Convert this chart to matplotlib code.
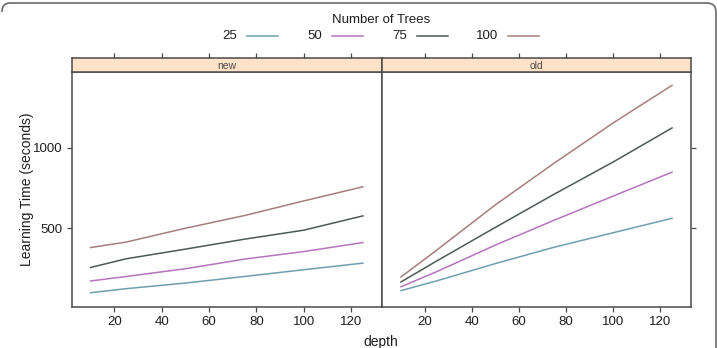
"""Learning time vs. tree depth, lattice-style two-panel chart."""

import matplotlib
matplotlib.use("Agg")
import matplotlib.pyplot as plt
from matplotlib.lines import Line2D
from matplotlib.path import Path
from matplotlib.patches import PathPatch

plt.rcParams["font.family"] = ["Liberation Sans", "DejaVu Sans"]

# ---- data ----
depth = [10, 25, 50, 75, 100, 125]
tree_counts = ["25", "50", "75", "100"]
panels = ["new", "old"]

new_25 = [99, 124, 159, 200, 242, 283]
new_50 = [172, 200, 248, 308, 355, 411]
new_75 = [256, 310, 370, 432, 488, 577]
new_100 = [380, 414, 500, 579, 670, 758]

old_25 = [112, 172, 280, 382, 472, 562]
old_50 = [136, 229, 395, 550, 700, 849]
old_75 = [166, 295, 505, 712, 912, 1124]
old_100 = [197, 362, 645, 905, 1155, 1389]

x_ticks = [20, 40, 60, 80, 100, 120]
y_ticks = [500, 1000]

series = {
    "new": [new_25, new_50, new_75, new_100],
    "old": [old_25, old_50, old_75, old_100],
}
colors = ["#6f9fae", "#b574bd", "#4d5a54", "#a57f7d"]

W, H = 717, 348
fig = plt.figure(figsize=(W / 100, H / 100), dpi=100)


def fx(px):
    return px / W


def fy(py):
    return 1 - py / H


AX_COLOR = "#4a4a4a"
TXT = "#1e1e1e"
panel_x = [(71.5, 382.0), (382.0, 691.0)]
top, bottom, strip_top = 72.0, 306.7, 58.0
xlim = (1.95, 133.05)
ylim = (12, 1472)

for i, name in enumerate(panels):
    x0, x1 = panel_x[i]
    ax = fig.add_axes([fx(x0), fy(bottom), fx(x1 - x0), (bottom - top) / H])
    for ys, c in zip(series[name], colors):
        ax.plot(depth, ys, color=c, lw=1.1)
    ax.set_xlim(*xlim)
    ax.set_ylim(*ylim)
    ax.set_xticks(x_ticks)
    ax.set_yticks(y_ticks)
    for s in ax.spines.values():
        s.set_color(AX_COLOR)
        s.set_linewidth(1.1)
    ax.tick_params(axis="both", direction="out", length=3.5, width=0.9,
                   color=AX_COLOR, labelsize=9.5, labelcolor=TXT, pad=3)
    if i == 0:
        ax.tick_params(axis="y", left=True, right=False, labelleft=True)
    else:
        ax.tick_params(axis="y", left=False, right=True, labelleft=False,
                       labelright=False)

    # strip on top of the panel
    st = fig.add_axes([fx(x0), fy(top), fx(x1 - x0), (top - strip_top) / H])
    st.set_facecolor("#ffe2c8")
    st.set_xlim(*xlim)
    st.set_ylim(0, 1)
    st.set_xticks(x_ticks)
    st.set_yticks([])
    st.tick_params(axis="x", top=True, bottom=False, labeltop=False,
                   labelbottom=False, direction="out", length=3.5, width=0.9,
                   color=AX_COLOR)
    for s in st.spines.values():
        s.set_color(AX_COLOR)
        s.set_linewidth(1.1)
    st.text(0.5, 0.45, name, transform=st.transAxes, ha="center",
            va="center", fontsize=7.5, color="#4a4a4a")

# axis labels
fig.text(fx(27), fy(189.5), "Learning Time (seconds)", rotation=90,
         ha="center", va="center", fontsize=10, color=TXT)
fig.text(fx(381), fy(342), "depth", ha="center", va="center",
         fontsize=10, color=TXT)

# legend
fig.text(fx(381), fy(20), "Number of Trees", ha="center", va="center",
         fontsize=9.5, color=TXT)
label_right = [237, 322, 407, 498]
for lab, c, xr in zip(tree_counts, colors, label_right):
    fig.text(fx(xr), fy(36), lab, ha="right", va="center", fontsize=9.5,
             color=TXT)
    fig.add_artist(Line2D([fx(xr + 10), fx(xr + 41)], [fy(36), fy(36)],
                          transform=fig.transFigure, color=c, lw=1.1))

# rounded frame at the top/right edge
verts = [(2, 12), (2, 3), (10, 3), (707, 3), (716, 3), (716, 12), (716, 350)]
codes = [Path.MOVETO, Path.CURVE3, Path.CURVE3, Path.LINETO,
         Path.CURVE3, Path.CURVE3, Path.LINETO]
frame = Path([(fx(a), fy(b)) for a, b in verts], codes)
fig.add_artist(PathPatch(frame, transform=fig.transFigure, fill=False,
                         edgecolor="#6a6a6a", lw=1.2))

fig.savefig("out.png", dpi=100, facecolor="white")
